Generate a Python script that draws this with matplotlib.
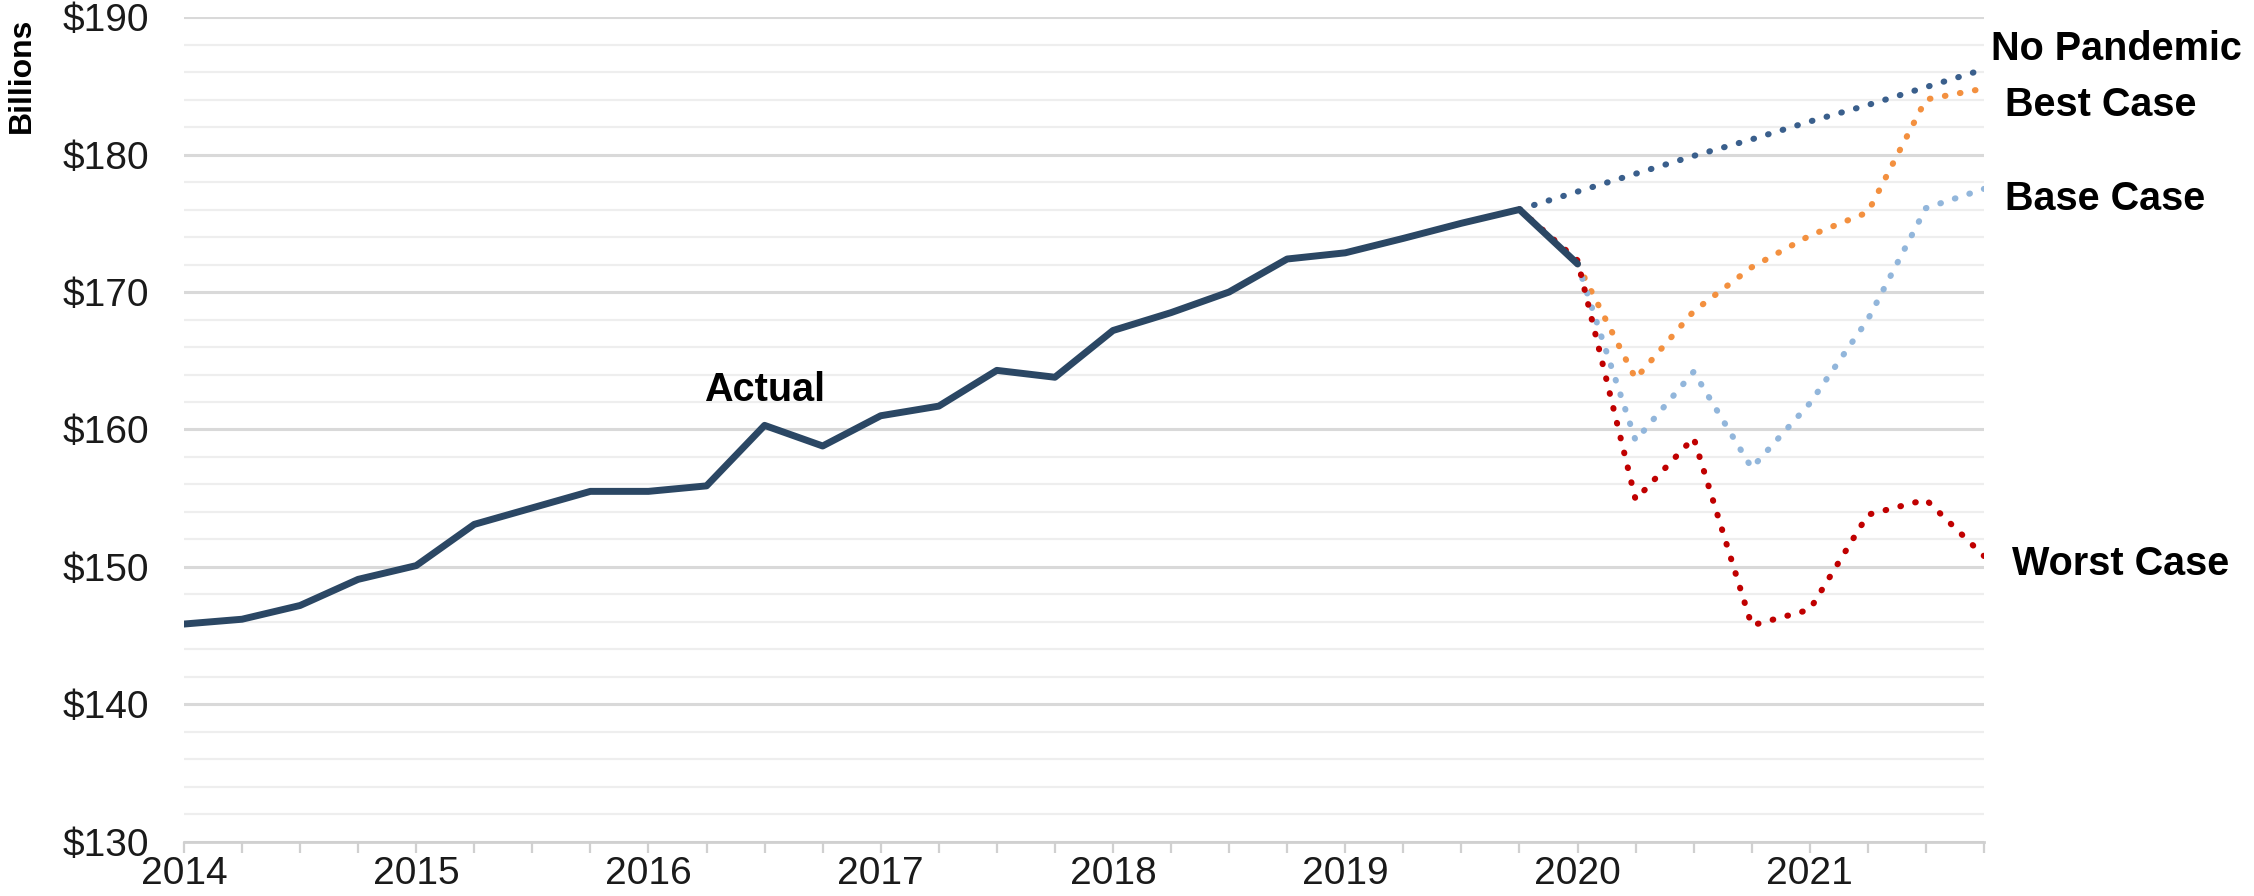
import numpy as np
import pandas as pd
import matplotlib
matplotlib.use("Agg")
import matplotlib.pyplot as plt
from matplotlib.ticker import MultipleLocator, FuncFormatter

# -------------------------------
# Data (quarterly, $ billions)
# -------------------------------
quarters = pd.period_range("2014Q1", "2021Q4", freq="Q")
x_all = quarters.year + (quarters.quarter - 1) / 4.0

actual = [145.85, 146.2, 147.2, 149.1, 150.1, 153.1, 154.3, 155.5, 155.5, 155.9,
          160.3, 158.8, 161.0, 161.7, 164.3, 163.8, 167.2, 168.5, 170.0, 172.4,
          172.85, 173.9, 175.0, 176.0, 172.05]

# scenarios start at 2019Q4 (index 23)
no_pandemic = [176.0, 177.3, 178.6, 179.9, 181.1, 182.4, 183.6, 184.9, 186.2]
best_case = [None, 172.05, 163.7, 168.6, 171.8, 174.1, 175.8, 184.0, 184.8]
base_case = [None, 172.05, 159.2, 164.2, 157.2, 161.9, 168.0, 176.1, 177.5]
worst_case = [176.0, 172.3, 154.9, 159.4, 145.75, 146.9, 153.8, 154.9, 150.8]

series_labels = ["No Pandemic", "Best Case", "Base Case", "Worst Case"]
label_y = [187.7, 183.6, 176.8, 150.2]
label_x = [2021.78, 2021.84, 2021.84, 2021.87]

navy = "#2b4764"
colors = {"No Pandemic": "#3a5f8c", "Best Case": "#f3903f",
          "Base Case": "#92b6db", "Worst Case": "#c00000"}

# -------------------------------
# Figure
# -------------------------------
fig = plt.figure(figsize=(22.54, 8.96), dpi=100)
ax = fig.add_axes([0.0816, 0.0603, 0.7986, 0.9207])

ax.set_xlim(2014, 2021.75)
ax.set_ylim(130, 190)

# gridlines: light every $2, darker every $10
for v in np.arange(130, 191, 2):
    major = (v % 10 == 0)
    ax.axhline(v, color="#d9d9d9" if major else "#eeeeee",
               lw=2.2 if major else 1.6, zorder=0)

x_scen = x_all[23:]
dot = dict(linestyle=(0, (0.1, 2.4)), dash_capstyle="round", lw=4.4, zorder=3)

ax.plot(x_scen, no_pandemic, color=colors["No Pandemic"], **dot)
for name, vals in [("Best Case", best_case), ("Base Case", base_case)]:
    ax.plot(x_scen[1:], vals[1:], color=colors[name], **dot)
ax.plot(x_all[:25], actual, color=navy, lw=5, solid_joinstyle="round",
        solid_capstyle="round", zorder=4)
ax.plot(x_scen, worst_case, color=colors["Worst Case"], **dot)

# labels
lab_font = dict(family="Liberation Sans", fontweight="bold", fontsize=28.5,
                color="black")
ax.text(2016.5, 162.9, "Actual", ha="center", va="center", **lab_font)
for name, lx, ly in zip(series_labels, label_x, label_y):
    ax.text(lx, ly, name, ha="left", va="center", clip_on=False, **lab_font)

# axes styling
for s in ["left", "right", "top"]:
    ax.spines[s].set_visible(False)
ax.spines["bottom"].set_color("#d0d0d0")
ax.spines["bottom"].set_linewidth(2)

ax.xaxis.set_major_locator(MultipleLocator(1))
ax.xaxis.set_minor_locator(MultipleLocator(0.25))
ax.xaxis.set_major_formatter(FuncFormatter(lambda v, p: f"{int(round(v))}"))
ax.tick_params(axis="x", which="both", length=8, width=1.6, color="#d0d0d0",
               labelsize=28, labelcolor="#1a1a1a", pad=2)

ax.yaxis.set_major_locator(MultipleLocator(10))
ax.yaxis.set_major_formatter(FuncFormatter(lambda v, p: f"${int(v)}"))
ax.tick_params(axis="y", length=0, labelsize=28, labelcolor="#1a1a1a", pad=25)
for t in ax.get_xticklabels() + ax.get_yticklabels():
    t.set_family("Liberation Sans")

fig.text(0.003, 0.98, "Billions", rotation=90, ha="left", va="top",
         fontsize=23, fontweight="bold", family="Liberation Sans")

fig.savefig("out.png", dpi=100)
